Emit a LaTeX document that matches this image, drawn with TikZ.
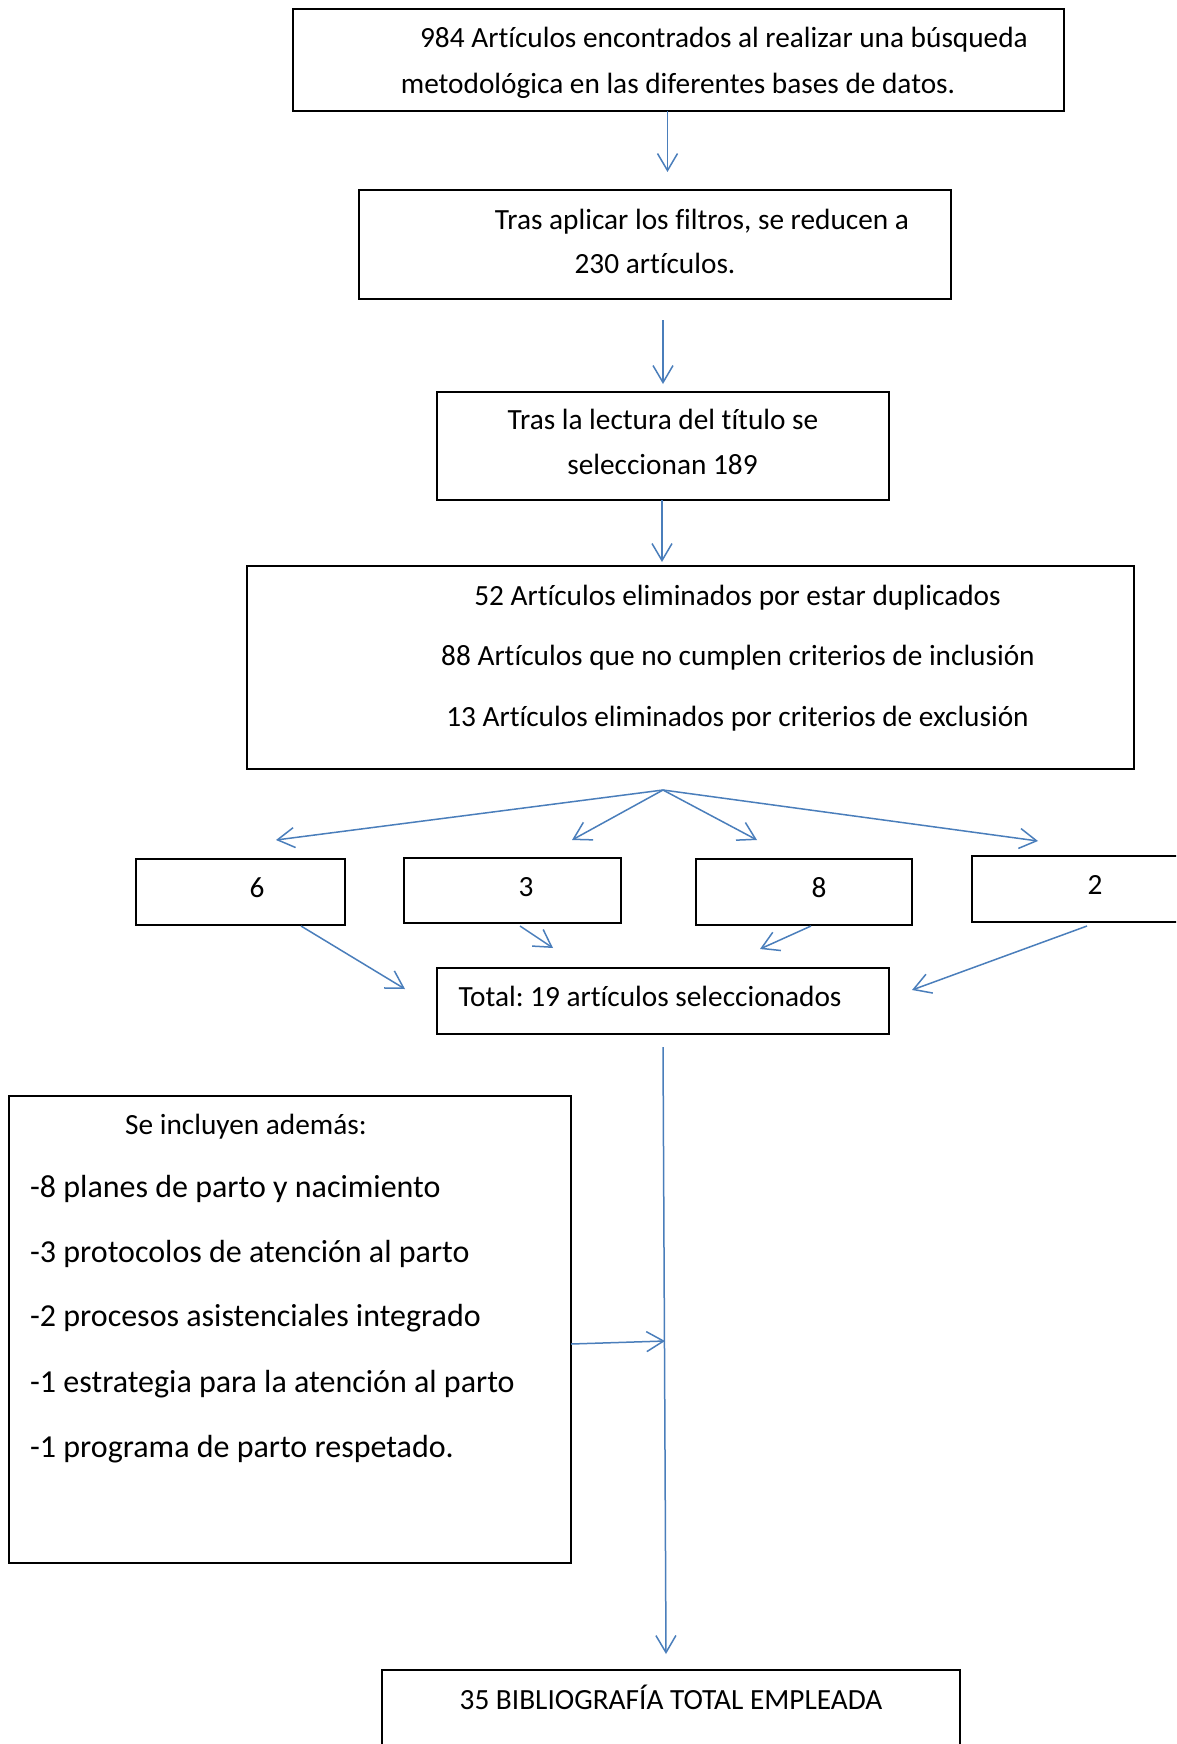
\documentclass[tikz,border=0pt]{standalone}
\usepackage{fontspec}
\setmainfont{Carlito}[Ligatures=NoCommon]
\usetikzlibrary{arrows.meta}
\definecolor{arrblue}{RGB}{74,126,187}
\frenchspacing
\begin{document}
\begin{tikzpicture}[x=1pt,y=-1pt,
  box/.style={draw=black,line width=2pt,inner sep=0pt},
  txt/.style={inner sep=0pt,font=\fontsize{29.3}{35}\selectfont,anchor=mid,yshift=-7.5pt},
  ltxt/.style={inner sep=0pt,font=\fontsize{32}{38}\selectfont,anchor=mid west,yshift=-7.5pt},
  arr/.style={draw=arrblue,line width=1.5pt,-{Straight Barb[length=17pt,width=20pt]}}]
\clip (0,0) rectangle (1176,1744);
\fill[white] (0,0) rectangle (1176,1744);
% boxes
\node[box,minimum width=771pt,minimum height=102pt] (b1) at (678,60) {};
\node[box,minimum width=592pt,minimum height=109pt] (b2) at (655,244.5) {};
\node[box,minimum width=452pt,minimum height=108pt] (b3) at (663,446) {};
\node[box,minimum width=887pt,minimum height=203pt] (b4) at (690.5,667.5) {};
\node[box,minimum width=209pt,minimum height=66pt] (s6) at (240.5,892) {};
\node[box,minimum width=217pt,minimum height=65pt] (s3) at (512.5,890.5) {};
\node[box,minimum width=216pt,minimum height=66pt] (s8) at (804,892) {};
\node[box,minimum width=260pt,minimum height=66pt] (s2) at (1102,889) {};
\node[box,minimum width=452pt,minimum height=66pt] (tot) at (663,1001) {};
\node[box,minimum width=562pt,minimum height=467pt] (lb) at (290,1329.5) {};
\node[box,minimum width=578pt,minimum height=130pt] (bb) at (671,1735) {};
% texts
\node[txt] (t1a) at (724,37.8) {984 Artículos encontrados al realizar una búsqueda};
\node[txt] (t1b) at (678,83.4) {metodológica en las diferentes bases de datos.};
\node[txt] (t2a) at (702,220) {Tras aplicar los filtros, se reducen a};
\node[txt] (t2b) at (655,264) {230 artículos.};
\node[txt] (t3a) at (663,420) {Tras la lectura del título se};
\node[txt] (t3b) at (662.5,465) {seleccionan 189};
\node[txt] (t4a) at (737.5,596) {52 Artículos eliminados por estar duplicados};
\node[txt] (t4b) at (738,656) {88 Artículos que no cumplen criterios de inclusión};
\node[txt] (t4c) at (737.5,716.5) {13 Artículos eliminados por criterios de exclusión};
\node[txt] (n6) at (257,888) {6};
\node[txt] (n3) at (526,887) {3};
\node[txt] (n8) at (819,888) {8};
\node[txt] (n2) at (1095,885) {2};
\node[txt] (ttot) at (650,997) {Total: 19 artículos seleccionados};
\node[txt] (lh) at (246,1125) {Se incluyen además:};
\node[ltxt] (l1) at (30,1188) {-8 planes de parto y nacimiento};
\node[ltxt] (l2) at (30,1253) {-3 protocolos de atención al parto};
\node[ltxt] (l3) at (30,1317) {-2 procesos asistenciales integrado};
\node[ltxt] (l4) at (30,1383) {-1 estrategia para la atención al parto};
\node[ltxt] (l5) at (30,1447.5) {-1 programa de parto respetado.};
\node[txt] (tbb) at (671,1700) {35 BIBLIOGRAFÍA TOTAL EMPLEADA};
% connector end points
\coordinate (a1s) at (667.5,111);
\coordinate (a1e) at (667.5,172);
\coordinate (a2s) at (663,320);
\coordinate (a2e) at (663,384);
\coordinate (a3s) at (662,500);
\coordinate (a3e) at (662,562);
\coordinate (fan) at (663,790);
\coordinate (f6) at (276,840);
\coordinate (f3) at (572,840);
\coordinate (f8) at (757,840);
\coordinate (f2) at (1038,841);
\coordinate (g6s) at (301,926);
\coordinate (g6e) at (405,989);
\coordinate (g3s) at (520,926);
\coordinate (g3e) at (553,948);
\coordinate (g8s) at (811,926);
\coordinate (g8e) at (760,949);
\coordinate (g2s) at (1087,926);
\coordinate (g2e) at (912,990);
\coordinate (vs) at (663,1047);
\coordinate (ve) at (666,1654);
\coordinate (hs) at (571,1344);
\coordinate (he) at (665,1341);
% connectors
\draw[arr] (a1s) -- (a1e);
\draw[arr] (a2s) -- (a2e);
\draw[arr] (a3s) -- (a3e);
\draw[arr] (fan) -- (f6);
\draw[arr] (fan) -- (f3);
\draw[arr] (fan) -- (f8);
\draw[arr] (fan) -- (f2);
\draw[arr] (g6s) -- (g6e);
\draw[arr] (g3s) -- (g3e);
\draw[arr] (g8s) -- (g8e);
\draw[arr] (g2s) -- (g2e);
\draw[arr] (vs) -- (ve);
\draw[arr] (hs) -- (he);
\end{tikzpicture}
\end{document}
